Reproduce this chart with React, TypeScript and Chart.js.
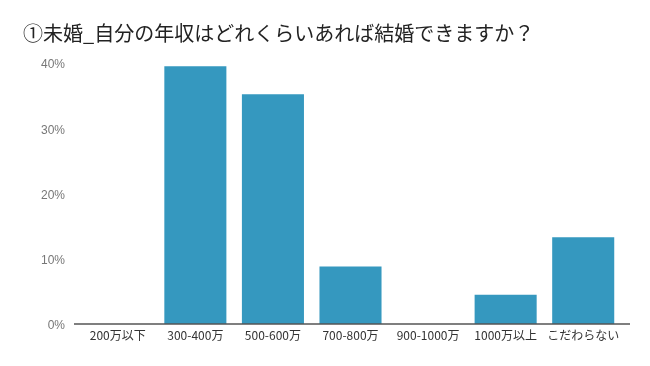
import React, { useEffect, useRef } from "react";
import { Chart, registerables } from "chart.js";

Chart.register(...registerables);

const titleText = "①未婚_自分の年収はどれくらいあれば結婚できますか？";
const categories = ["200万以下", "300-400万", "500-600万", "700-800万", "900-1000万", "1000万以上", "こだわらない"];
const values = [0, 39.5, 35.2, 8.8, 0, 4.5, 13.3];
const yTicks = [0, 10, 20, 30, 40];

const FONT = "'Noto Sans CJK JP', 'Noto Sans', sans-serif";

const baselinePlugin = {
  id: "baseline",
  afterDraw(chart: any) {
    const { ctx, chartArea } = chart;
    const y = chart.scales.y.getPixelForValue(0);
    ctx.save();
    ctx.strokeStyle = "#555555";
    ctx.lineWidth = 1.5;
    ctx.beginPath();
    ctx.moveTo(chartArea.left - 5, y);
    ctx.lineTo(chartArea.right + 8, y);
    ctx.stroke();
    ctx.restore();
  },
};

export default function App() {
  const ref = useRef<HTMLCanvasElement>(null);
  useEffect(() => {
    if (!ref.current) return;
    const chart = new Chart(ref.current, {
      type: "bar",
      data: {
        labels: categories,
        datasets: [
          {
            data: values,
            backgroundColor: "#3598bf",
            barPercentage: 0.8,
            categoryPercentage: 1,
          },
        ],
      },
      options: {
        responsive: false,
        animation: false,
        layout: { padding: { left: 15, right: 20, top: 0, bottom: 0 } },
        plugins: {
          legend: { display: false },
          tooltip: { enabled: false },
          title: {
            display: true,
            text: titleText,
            align: "start",
            color: "#222222",
            font: { family: FONT, size: 20, weight: "normal" },
            padding: { top: 13, bottom: 18 },
          },
        },
        scales: {
          x: {
            grid: { display: false, drawTicks: false },
            border: { display: false },
            ticks: {
              color: "#333333",
              font: { family: FONT, size: 12 },
              padding: 4,
              maxRotation: 0,
              autoSkip: false,
            },
            afterFit(scale: any) {
              scale.height = 34;
            },
          },
          y: {
            min: 0,
            max: 40,
            grid: { display: false, drawTicks: false },
            border: { display: false },
            afterBuildTicks(scale: any) {
              scale.ticks = yTicks.map((v) => ({ value: v }));
            },
            ticks: {
              color: "#777777",
              font: { family: "'Liberation Sans', Arial, sans-serif", size: 12 },
              padding: 14,
              labelOffset: 2,
              callback: (v: any) => v + "%",
            },
            afterFit(scale: any) {
              scale.width = 56;
            },
          },
        },
      },
      plugins: [baselinePlugin],
    });
    return () => chart.destroy();
  }, []);
  return <canvas ref={ref} width={634} height={350} style={{ display: "block" }} />;
}
